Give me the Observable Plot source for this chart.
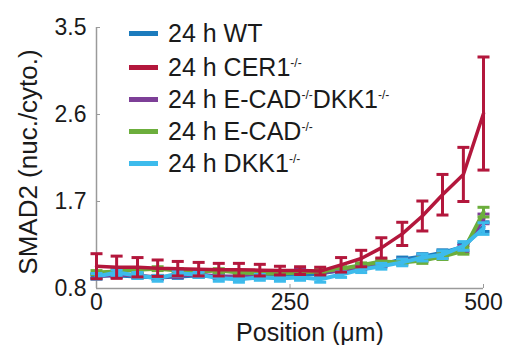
<!DOCTYPE html>
<html><head><meta charset="utf-8">
<script src="https://cdn.jsdelivr.net/npm/d3@7"></script>
<script src="https://cdn.jsdelivr.net/npm/@observablehq/plot@0.6"></script>
<style>
body{margin:0;background:#fff;}
#wrap{position:relative;width:518px;height:345px;font-family:"Liberation Sans",Arial,sans-serif;}
.row{position:absolute;left:129px;height:30px;display:flex;align-items:center;font-size:25px;color:#1a1a1a;white-space:nowrap;}
.sw{width:29px;height:5px;margin-right:10px;}
sup{font-size:12px;vertical-align:0;position:relative;top:-9px;}
</style></head>
<body><div id="wrap"></div>
<script>
// Data
const positions = [0, 26, 53, 79, 105, 132, 158, 184, 211, 237, 263, 289, 316, 342, 368, 395, 421, 447, 474, 500];
const xTicks = [0, 250, 500];
const yTicks = [0.8, 1.7, 2.6, 3.5];
const xLabel = "Position (μm)";
const yLabel = "SMAD2 (nuc./cyto.)";

const names = ["24 h WT", "24 h CER1-/-", "24 h E-CAD-/-DKK1-/-", "24 h E-CAD-/-", "24 h DKK1-/-"];
const legendHtml = ["24 h WT", "24 h CER1<sup>-/-</sup>", "24 h E-CAD<sup>-/-</sup>DKK1<sup>-/-</sup>", "24 h E-CAD<sup>-/-</sup>", "24 h DKK1<sup>-/-</sup>"];
const colors = ["#1c7bbd", "#b3173c", "#7d3f97", "#6cae3c", "#3dbbec"];

const wtMean     = [0.935,0.935,0.925,0.915,0.925,0.935,0.925,0.915,0.925,0.935,0.935,0.955,0.99,1.03,1.05,1.10,1.13,1.17,1.23,1.44];
const wtErr      = [0.02,0.02,0.02,0.02,0.02,0.02,0.02,0.02,0.02,0.02,0.02,0.02,0.02,0.025,0.025,0.025,0.03,0.03,0.035,0.05];
const cer1Mean   = [1.03,1.02,1.02,1.01,1.005,1.0,0.995,0.995,0.99,0.985,0.985,0.98,1.045,1.11,1.22,1.365,1.55,1.77,1.98,2.61];
const cer1Err    = [0.13,0.115,0.1,0.085,0.075,0.07,0.065,0.065,0.06,0.045,0.04,0.04,0.075,0.085,0.105,0.12,0.155,0.21,0.28,0.585];
const ecDkkMean  = [0.925,0.945,0.935,0.915,0.935,0.945,0.925,0.925,0.945,0.965,0.985,0.965,0.985,1.02,1.05,1.08,1.11,1.15,1.21,1.52];
const ecDkkErr   = [0.02,0.02,0.02,0.02,0.02,0.02,0.02,0.02,0.02,0.02,0.02,0.02,0.02,0.025,0.025,0.025,0.03,0.03,0.035,0.05];
const ecadMean   = [0.965,0.975,0.995,1.005,0.985,0.975,0.985,0.965,0.955,0.955,0.965,0.975,1.005,1.04,1.08,1.07,1.09,1.13,1.19,1.59];
const ecadErr    = [0.02,0.02,0.02,0.02,0.02,0.02,0.02,0.02,0.02,0.02,0.02,0.02,0.02,0.025,0.025,0.025,0.03,0.03,0.035,0.05];
const dkk1Mean   = [0.925,0.965,0.935,0.905,0.955,0.945,0.905,0.895,0.915,0.905,0.915,0.895,0.945,0.995,1.03,1.07,1.12,1.15,1.24,1.42];
const dkk1Err    = [0.03,0.03,0.03,0.03,0.03,0.03,0.03,0.03,0.03,0.03,0.03,0.03,0.03,0.03,0.03,0.035,0.035,0.04,0.045,0.06];

const means = [wtMean, cer1Mean, ecDkkMean, ecadMean, dkk1Mean];
const errs = [wtErr, cer1Err, ecDkkErr, ecadErr, dkk1Err];

const series = names.map((name, k) => ({
  name, color: colors[k],
  rows: positions.map((x, i) => ({x, y: means[k][i], lo: means[k][i] - errs[k][i], hi: means[k][i] + errs[k][i]}))
}));

const cap = {draw(context, size) { const r = Math.sqrt(size / Math.PI); context.moveTo(-r, 0); context.lineTo(r, 0); }};

function seriesMarks(s, lw) {
  return [
    Plot.ruleX(s.rows, {x: "x", y1: "lo", y2: "hi", stroke: s.color, strokeWidth: 3}),
    Plot.dot(s.rows, {x: "x", y: "hi", symbol: cap, r: 6, stroke: s.color, strokeWidth: 3, fill: "none"}),
    Plot.dot(s.rows, {x: "x", y: "lo", symbol: cap, r: 6, stroke: s.color, strokeWidth: 3, fill: "none"}),
    Plot.line(s.rows, {x: "x", y: "y", stroke: s.color, strokeWidth: lw})
  ];
}

const drawOrder = [0, 2, 3, 4, 1];

const chart = Plot.plot({
  width: 518, height: 345,
  marginLeft: 96, marginRight: 35, marginTop: 27, marginBottom: 57,
  x: {domain: [0, 500]},
  y: {domain: [0.8, 3.5]},
  style: {fontFamily: "'Liberation Sans', Arial, sans-serif", fontSize: "22px", color: "#1a1a1a", background: "white", overflow: "visible"},
  marks: [
    Plot.axisX({ticks: xTicks, tickSize: 0, tickPadding: 5, label: null, fontSize: 23}),
    Plot.axisY({ticks: yTicks, tickSize: 0, tickPadding: 10, tickFormat: d => d.toFixed(1), label: null, fontSize: 23}),
    Plot.text([xLabel], {frameAnchor: "bottom", textAnchor: "middle", lineAnchor: "middle", dx: 20, dy: 44, fontSize: 25, fill: "#1a1a1a"}),
    Plot.text([yLabel], {frameAnchor: "left", textAnchor: "middle", lineAnchor: "middle", dx: -68, dy: 4, rotate: -90, fontSize: 26, fill: "#1a1a1a"}),
    Plot.ruleX([0], {stroke: "#9a9a9a", strokeWidth: 1.5}),
    Plot.ruleY([0.8], {stroke: "#9a9a9a", strokeWidth: 1.5}),
    Plot.tickY(yTicks, {y: d => d, stroke: "#9a9a9a", insetRight: 383}),
    Plot.tickX(xTicks, {x: d => d, stroke: "#9a9a9a", insetTop: 257}),
    ...drawOrder.flatMap(k => seriesMarks(series[k], k === 1 ? 3.5 : 4))
  ]
});

const wrap = document.getElementById("wrap");
wrap.appendChild(chart);
const rowTops = [18, 52, 84, 116, 148];
legendHtml.forEach((h, k) => {
  const d = document.createElement("div");
  d.className = "row";
  d.style.top = rowTops[k] + "px";
  d.innerHTML = `<div class="sw" style="background:${colors[k]}"></div><span>${h}</span>`;
  wrap.appendChild(d);
});
</script>
</body></html>
